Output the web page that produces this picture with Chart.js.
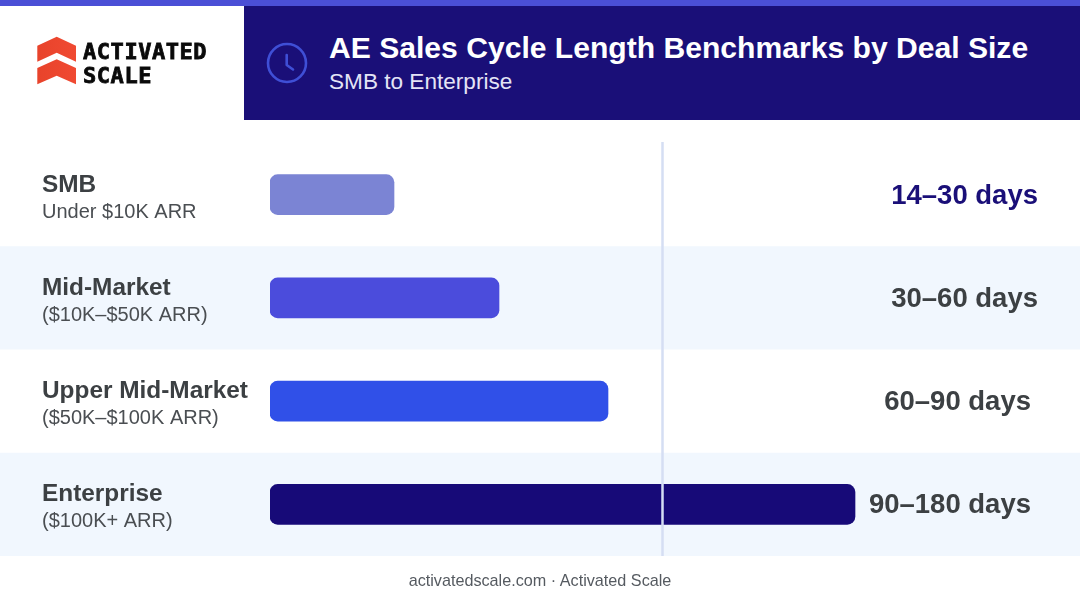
<!DOCTYPE html>
<html><head><meta charset="utf-8">
<script src="https://cdn.jsdelivr.net/npm/chart.js@4"></script>
<style>
html,body{margin:0;padding:0;background:#fff;width:1080px;height:603px;overflow:hidden;font-family:"Liberation Sans",Arial,sans-serif}
#wrap{position:relative;width:1080px;height:603px}
#chart{position:absolute;left:0;top:0}
#strip{position:absolute;left:0;top:0;width:1080px;height:6px;background:#4b4fd6}
#head{position:absolute;left:244px;top:6px;width:836px;height:114px;background:#1a0f78}
#title{position:absolute;left:85px;top:24px;font-size:30.1px;font-weight:700;color:#fff;white-space:nowrap;line-height:36px}
#sub{position:absolute;left:85px;top:62px;font-size:22.6px;color:#e4e4f6;white-space:nowrap;line-height:28px}
#clock{position:absolute;left:22px;top:36px}
#logo{position:absolute;left:36px;top:36px}
#lt{position:absolute;left:83px;top:40px;font-family:"DejaVu Sans Mono",monospace;font-weight:700;font-size:22px;line-height:24px;color:#0a0a0a;letter-spacing:.55px;white-space:nowrap;-webkit-text-stroke:.8px #0a0a0a}
#foot{position:absolute;left:0;width:1080px;top:571px;text-align:center;font-size:16.2px;line-height:19px;color:#555a60}
</style></head><body>
<div id="wrap">
<canvas id="chart" width="1080" height="603"></canvas>
<div id="strip"></div>
<svg id="logo" width="42" height="50" viewBox="0 0 42 50">
<defs><linearGradient id="g" x1="0" y1="0" x2="1" y2="0"><stop offset="0" stop-color="#e8432b"/><stop offset="1" stop-color="#f04a32"/></linearGradient></defs>
<path d="M1.3 9.7 L20.7 .7 L40 9.7 L40 25.7 L20.7 16.7 L1.3 25.7 Z" fill="url(#g)"/>
<path d="M1.3 32 L20.7 23.3 L40 32 L40 48.3 L20.7 39.7 L1.3 48.3 Z" fill="url(#g)"/>
</svg>
<div id="lt">ACTIVATED<br>SCALE</div>
<div id="head">
<svg id="clock" width="42" height="42" viewBox="0 0 42 42" fill="none" stroke="#3f4fd6" stroke-width="2.6" stroke-linecap="round" stroke-linejoin="round">
<circle cx="21" cy="21" r="19"/><path d="M20.7 13 L20.7 23 L27 27.5"/></svg>
<div id="title"></div>
<div id="sub"></div>
</div>
<div id="foot"></div>
</div>
<script>
const titleText = "AE Sales Cycle Length Benchmarks by Deal Size";
const subtitleText = "SMB to Enterprise";
const footerText = "activatedscale.com · Activated Scale";
const categories = ["SMB","Mid-Market","Upper Mid-Market","Enterprise"];
const subLabels = ["Under $10K ARR","($10K–$50K ARR)","($50K–$100K ARR)","($100K+ ARR)"];
const rangeLabels = ["14–30 days","30–60 days","60–90 days","90–180 days"];
// Bar lengths (relative units; the drawn scale is not linear in days)
const barLengths = [124,229,338,585];
const barColors = ["#7b84d4","#4b4cdc","#3050e8","#170a78"];
const rangeColors = ["#1a0f78","#3c4043","#3c4043","#3c4043"];
const rangeShift = [0,0,7,7];
const referenceValue = 392.5;
const scaleMax = 810;

document.getElementById('title').textContent = titleText;
document.getElementById('sub').textContent = subtitleText;
document.getElementById('foot').textContent = footerText;

const bands = {
  id:'bands',
  beforeDatasetsDraw(c){
    const {ctx,scales:{y}} = c;
    const h = y.getPixelForValue(1)-y.getPixelForValue(0);
    ctx.save();
    ctx.fillStyle='#f1f7fe';
    categories.forEach((_,i)=>{ if(i%2===1){
      ctx.fillRect(0,y.getPixelForValue(i)-h/2,c.width,h);
    }});
    ctx.restore();
  },
  afterDatasetsDraw(c){
    const {ctx,chartArea:a,scales:{x,y}} = c;
    ctx.save();
    const rx = x.getPixelForValue(referenceValue);
    ctx.strokeStyle='#d5def3'; ctx.lineWidth=2.5;
    ctx.beginPath(); ctx.moveTo(rx,a.top-1); ctx.lineTo(rx,a.bottom); ctx.stroke();
    ctx.textBaseline='alphabetic';
    categories.forEach((cat,i)=>{
      const cy = y.getPixelForValue(i);
      ctx.textAlign='left';
      ctx.fillStyle='#3c4043';
      ctx.font='700 24.4px "Liberation Sans"';
      ctx.fillText(cat,42,cy-3);
      ctx.font='400 20px "Liberation Sans"';
      ctx.fillStyle='#4a4e52';
      ctx.fillText(subLabels[i],42,cy+23);
      ctx.textAlign='right';
      ctx.font='700 27.5px "Liberation Sans"';
      ctx.fillStyle=rangeColors[i];
      ctx.fillText(rangeLabels[i],1038-rangeShift[i],cy+9);
    });
    ctx.restore();
  }
};

new Chart(document.getElementById('chart'),{
  type:'bar',
  data:{labels:categories,datasets:[{data:barLengths,backgroundColor:barColors,borderRadius:8,borderSkipped:false,barThickness:40}]},
  options:{
    indexAxis:'y',responsive:false,animation:false,devicePixelRatio:1,
    layout:{padding:{left:270,right:0,top:143,bottom:47}},
    plugins:{legend:{display:false},tooltip:{enabled:false},title:{display:false}},
    scales:{
      x:{display:false,min:0,max:scaleMax,grid:{display:false}},
      y:{display:false,grid:{display:false}}
    }
  },
  plugins:[bands]
});
</script>
</body></html>
